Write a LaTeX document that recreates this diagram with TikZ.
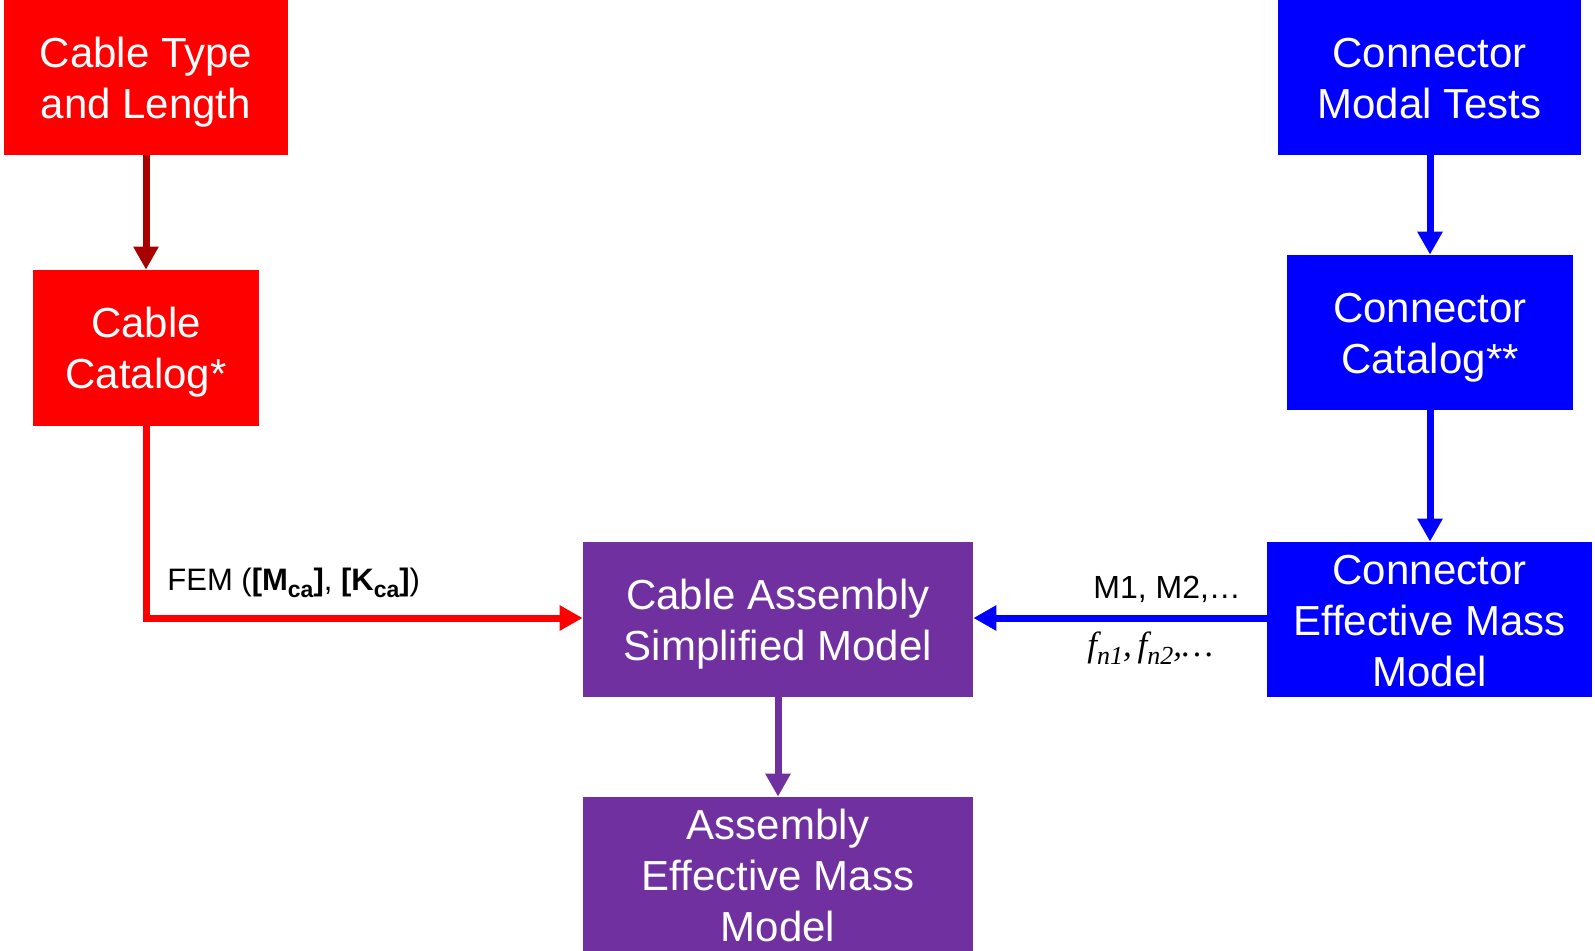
\documentclass[tikz,border=0pt]{standalone}
\usepackage{fontspec}
\setmainfont{Liberation Sans}
\newfontfamily\serifface{Liberation Serif}
\usetikzlibrary{arrows.meta}
\definecolor{cred}{HTML}{FF0000}
\definecolor{cdarkred}{HTML}{A80000}
\definecolor{cblue}{HTML}{0000FF}
\definecolor{cpurple}{HTML}{7030A0}
% struts that fix the text block to the line metrics, not to the glyphs
\newcommand{\topstrut}{\rule{0pt}{20.5pt}}
\newcommand{\botstrut}{\rule[-5pt]{0pt}{5pt}}
\newcommand{\subtext}[1]{\raisebox{-3.5pt}{\fontsize{11.5}{13}\selectfont\bfseries #1}}
\newcommand{\subital}[1]{\raisebox{-4pt}{\fontsize{13}{14}\selectfont #1}}
\tikzset{
  box/.style={rectangle, inner sep=0pt, text=white, align=center,
    font=\fontsize{21}{25.5}\selectfont},
  redbox/.style={box, fill=cred},
  bluebox/.style={box, fill=cblue},
  purplebox/.style={box, fill=cpurple},
  flow/.style={line width=3.5pt, -{Triangle[width=12pt,length=11.5pt]}},
  lbl/.style={inner sep=0pt, font=\fontsize{15.5}{18}\selectfont},
}
\begin{document}
\begin{tikzpicture}[x=0.5pt, y=-0.5pt]
\useasboundingbox (0,0) rectangle (1595,951);

% left column: cable data
\node[redbox, minimum width=142pt, minimum height=77.5pt] (type) at (146,77.5) {\topstrut Cable Type\\and Length\botstrut};
\node[redbox, minimum width=113pt, minimum height=78pt] (ccat) at (146,348) {\topstrut Cable\\Catalog*\botstrut};

% right column: connector data
\node[bluebox, minimum width=151.5pt, minimum height=77.5pt] (tests) at (1429.5,77.5) {\topstrut Connector\\Modal Tests\botstrut};
\node[bluebox, minimum width=143pt, minimum height=77.5pt] (kcat) at (1430,332.5) {\topstrut Connector\\Catalog**\botstrut};
\node[bluebox, minimum width=162.5pt, minimum height=77.5pt] (kmass) at (1429.5,619.5) {\topstrut Connector\\Effective Mass\\Model\botstrut};

% centre column: assembly models
\node[purplebox, minimum width=195pt, minimum height=77.5pt] (simp) at (778,619.5) {\topstrut Cable Assembly\\Simplified Model\botstrut};
\node[purplebox, minimum width=195pt, minimum height=77.5pt] (amass) at (778,874.5) {\topstrut Assembly\\Effective Mass\\Model\botstrut};

% connectors
\draw[flow, cdarkred] (type.south) -- (ccat.south |- ccat.north);
\draw[flow, cblue] (tests.south -| kcat.north) -- (kcat.north);
\draw[flow, cblue] (kcat.south) -- (kmass.north -| kcat.south);
\draw[flow, cred] (ccat.south) |- ([yshift=0.75pt]simp.west);
\draw[flow, cblue] ([yshift=0.75pt]kmass.west) -- ([yshift=0.75pt]simp.east);
\draw[flow, cpurple] (simp.south) -- (amass.north);

% labels on the horizontal connectors
\node[lbl, anchor=base west] (fem) at (167,590)
  {FEM (\textbf{[M}\subtext{ca}\textbf{]}, \textbf{[K}\subtext{ca}\textbf{]})};
\node[lbl, anchor=base west, font=\fontsize{16}{18}\selectfont] (modes) at (1093,598) {M1, M2,…};
\node[lbl, anchor=base west] (freq) at (1087,656)
  {\serifface\itshape\fontsize{17.5}{20}\selectfont f\subital{n1},\,f\subital{n2},…};
\end{tikzpicture}
\end{document}
